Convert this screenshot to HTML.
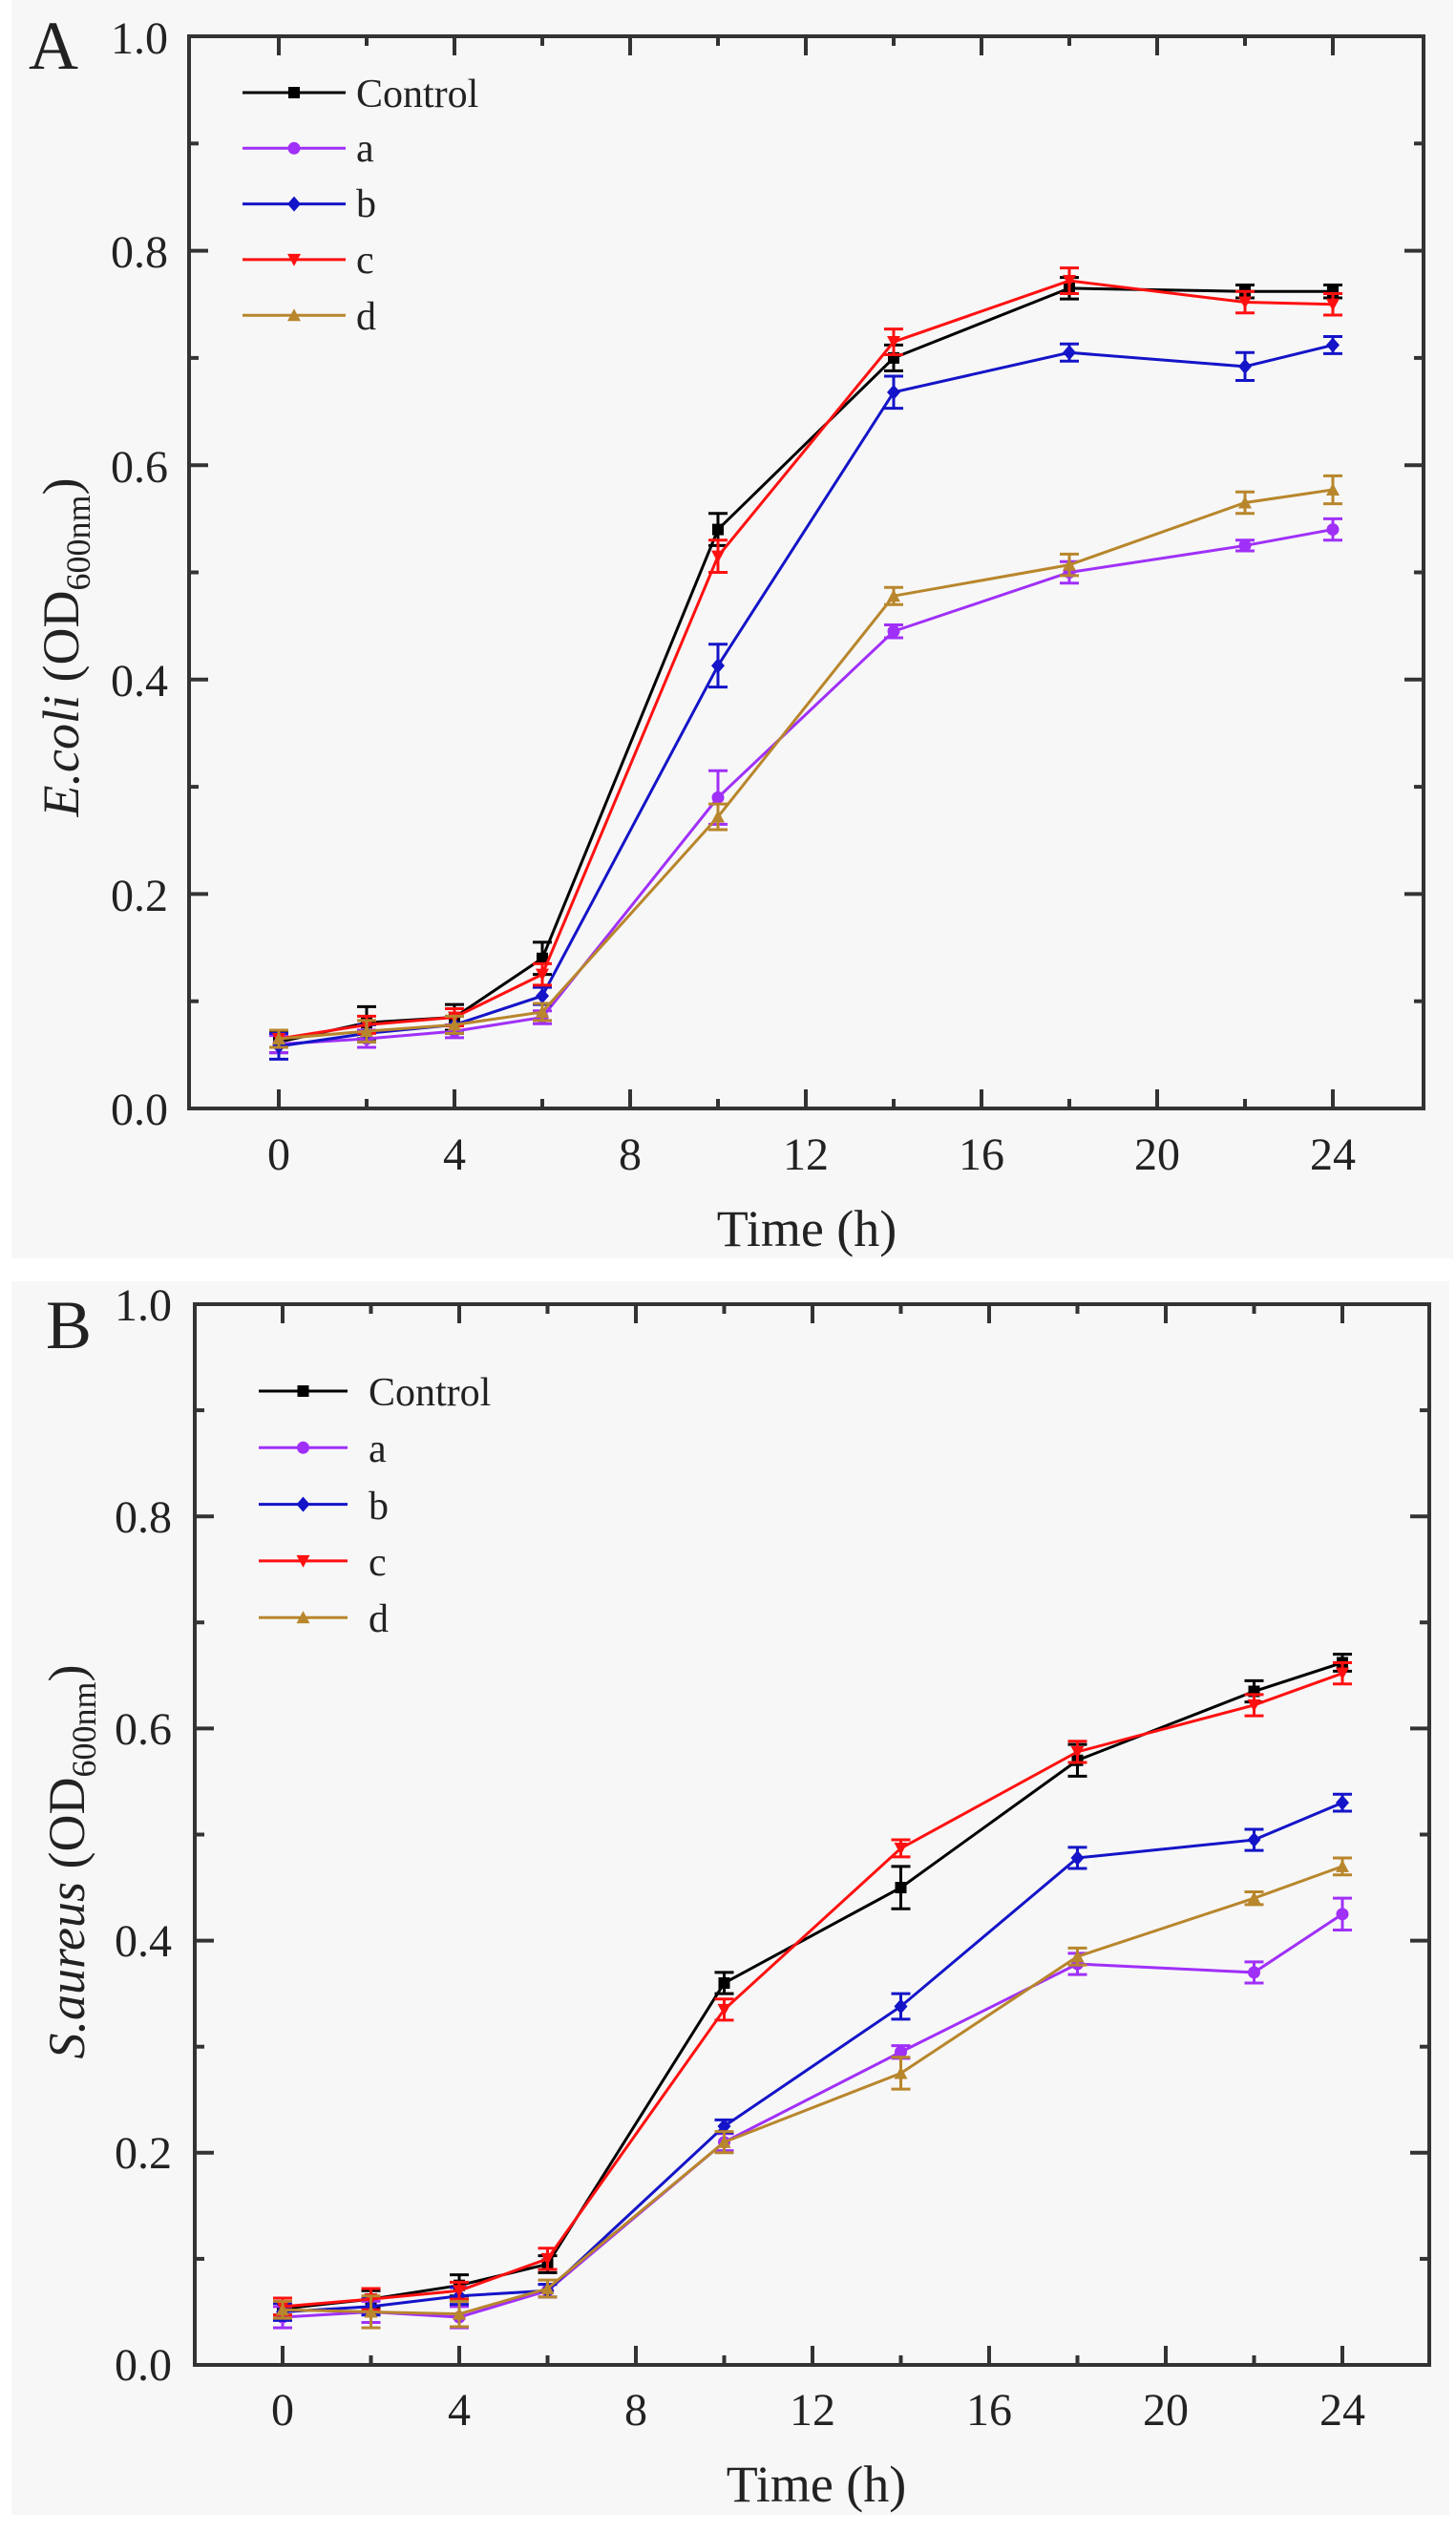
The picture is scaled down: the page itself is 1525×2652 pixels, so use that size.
<!DOCTYPE html>
<html><head><meta charset="utf-8"><style>
html,body{margin:0;padding:0;background:#fff;}
svg{display:block;}
text{font-family:"Liberation Serif",serif;fill:#222;}
</style></head><body>
<svg id="s" width="1525" height="2652" viewBox="0 0 1525 2652" xmlns="http://www.w3.org/2000/svg">
<rect x="12" y="0" width="1510" height="1318" fill="#f7f7f7"/>
<rect x="12" y="1342" width="1506" height="1292" fill="#f7f7f7"/>
<g id="A">
<text x="30" y="72" font-size="72">A</text>
<g font-size="48" text-anchor="end">
<text x="176" y="1178">0.0</text><text x="176" y="954">0.2</text><text x="176" y="729">0.4</text><text x="176" y="505">0.6</text><text x="176" y="280">0.8</text><text x="176" y="56">1.0</text>
</g>
<g font-size="48" text-anchor="middle">
<text x="292" y="1225">0</text><text x="476" y="1225">4</text><text x="660" y="1225">8</text><text x="844" y="1225">12</text><text x="1028" y="1225">16</text><text x="1212" y="1225">20</text><text x="1396" y="1225">24</text>
</g>
<text x="845" y="1305" font-size="54" text-anchor="middle">Time (h)</text>
<text transform="translate(82,678) rotate(-90)" font-size="54" text-anchor="middle"><tspan font-style="italic">E.coli</tspan> (OD<tspan font-size="36" dy="12">600nm</tspan><tspan dy="-12">)</tspan></text>
<g font-size="42">
<text x="373" y="112">Control</text><text x="373" y="169">a</text><text x="373" y="227">b</text><text x="373" y="286">c</text><text x="373" y="345">d</text>
</g>
</g>
<g id="B">
<text x="48" y="1412" font-size="72">B</text>
<g font-size="48" text-anchor="end">
<text x="180" y="2493">0.0</text><text x="180" y="2271">0.2</text><text x="180" y="2049">0.4</text><text x="180" y="1827">0.6</text><text x="180" y="1605">0.8</text><text x="180" y="1383">1.0</text>
</g>
<g font-size="48" text-anchor="middle">
<text x="296" y="2540">0</text><text x="481" y="2540">4</text><text x="666" y="2540">8</text><text x="851" y="2540">12</text><text x="1036" y="2540">16</text><text x="1221" y="2540">20</text><text x="1406" y="2540">24</text>
</g>
<text x="855" y="2620" font-size="54" text-anchor="middle">Time (h)</text>
<text transform="translate(88,1950) rotate(-90)" font-size="54" text-anchor="middle"><tspan font-style="italic">S.aureus</tspan> (OD<tspan font-size="36" dy="12">600nm</tspan><tspan dy="-12">)</tspan></text>
<g font-size="42">
<text x="386" y="1472">Control</text><text x="386" y="1531">a</text><text x="386" y="1591">b</text><text x="386" y="1650">c</text><text x="386" y="1709">d</text>
</g>
</g>
</svg>
<script>
var s=document.getElementById('s'),NS='http://www.w3.org/2000/svg';
function el(t,a){var e=document.createElementNS(NS,t);for(var k in a)e.setAttribute(k,a[k]);s.appendChild(e);return e;}
var cols=['#000000','#a030f8','#1414c8','#ff1010','#b8862c'];
var T=[0,2,4,6,10,14,18,22,24];
function marker(i,x,y,c){
 if(i==0)el('rect',{x:x-6,y:y-6,width:12,height:12,fill:c});
 else if(i==1)el('circle',{cx:x,cy:y,r:6.5,fill:c});
 else if(i==2)el('polygon',{points:(x)+','+(y-8)+' '+(x+7)+','+y+' '+x+','+(y+8)+' '+(x-7)+','+y,fill:c});
 else if(i==3)el('polygon',{points:(x-7)+','+(y-6)+' '+(x+7)+','+(y-6)+' '+x+','+(y+7),fill:c});
 else el('polygon',{points:(x-7)+','+(y+6)+' '+(x+7)+','+(y+6)+' '+x+','+(y-7),fill:c});
}
function panel(P){
 var X=function(t){return P.x0+t*P.dx},Y=function(v){return P.bot-v*P.sy};
 var ax='#333';
 // ticks
 for(var t=0;t<=24;t+=2){var L=(t%4==0)?20:10;
  el('line',{x1:X(t),x2:X(t),y1:P.bot,y2:P.bot-L,stroke:ax,'stroke-width':4});
  el('line',{x1:X(t),x2:X(t),y1:P.top,y2:P.top+L,stroke:ax,'stroke-width':4});}
 for(var k=0;k<=10;k++){var v=k/10,L=(k%2==0)?20:10;
  el('line',{x1:P.left,x2:P.left+L,y1:Y(v),y2:Y(v),stroke:ax,'stroke-width':4});
  el('line',{x1:P.right,x2:P.right-L,y1:Y(v),y2:Y(v),stroke:ax,'stroke-width':4});}
 el('rect',{x:P.left,y:P.top,width:P.right-P.left,height:P.bot-P.top,fill:'none',stroke:ax,'stroke-width':4});
 P.data.forEach(function(d,i){
  var c=cols[i];
  var pts=d.map(function(v,j){return X(T[j])+','+Y(v)}).join(' ');
  el('polyline',{points:pts,fill:'none',stroke:c,'stroke-width':3});
  d.forEach(function(v,j){var e=P.err[i][j],x=X(T[j]);
   el('line',{x1:x,x2:x,y1:Y(v-e),y2:Y(v+e),stroke:c,'stroke-width':3});
   el('line',{x1:x-10,x2:x+10,y1:Y(v+e),y2:Y(v+e),stroke:c,'stroke-width':3});
   el('line',{x1:x-10,x2:x+10,y1:Y(v-e),y2:Y(v-e),stroke:c,'stroke-width':3});
   marker(i,x,Y(v),c);});
  var ly=P.leg[1]+i*P.leg[3];
  el('line',{x1:P.leg[0],x2:P.leg[2],y1:ly,y2:ly,stroke:c,'stroke-width':3});
  marker(i,(P.leg[0]+P.leg[2])/2,ly,c);
 });
}
var eA=[[.01,.015,.012,.015,.015,.012,.01,.006,.006],[.008,.008,.006,.006,.025,.006,.01,.005,.01],[.012,.008,.008,.008,.02,.015,.008,.013,.008],[.008,.008,.008,.01,.015,.012,.012,.01,.01],[.008,.01,.008,.008,.012,.008,.01,.01,.013]];
panel({left:198,right:1491,top:38,bot:1161,x0:292,dx:46,sy:1123,leg:[254,97,362,58.3],err:eA,data:[
[.062,.08,.085,.14,.54,.70,.765,.762,.762],
[.06,.065,.072,.085,.29,.445,.50,.525,.54],
[.058,.07,.078,.105,.413,.668,.705,.692,.712],
[.065,.078,.085,.125,.515,.715,.772,.752,.75],
[.065,.072,.078,.09,.272,.478,.507,.565,.577]]});
var eB=[[.006,.008,.01,.008,.01,.02,.015,.01,.008],[.01,.01,.01,.006,.008,.006,.01,.01,.015],[.008,.008,.008,.006,.006,.012,.01,.01,.008],[.008,.01,.008,.01,.01,.008,.01,.01,.01],[.008,.015,.012,.008,.01,.015,.008,.006,.008]];
panel({left:204,right:1497,top:1366,bot:2477,x0:296,dx:46.25,sy:1111,leg:[271,1457,364,59.3],err:eB,data:[
[.053,.062,.075,.095,.36,.45,.57,.635,.662],
[.045,.05,.045,.07,.21,.295,.378,.37,.425],
[.05,.055,.065,.07,.225,.338,.478,.495,.53],
[.055,.062,.07,.1,.335,.487,.578,.622,.652],
[.052,.05,.048,.072,.21,.275,.385,.44,.47]]});
</script>
</body></html>
